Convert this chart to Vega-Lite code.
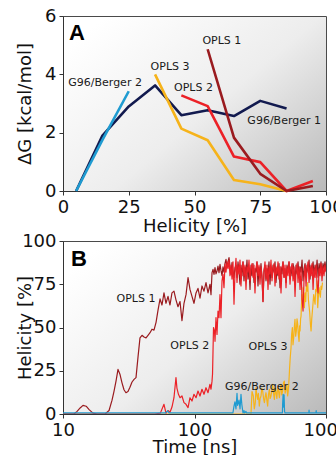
{
  "$schema": "https://vega.github.io/schema/vega-lite/v6.json",
  "padding": {"left": 15, "top": 6, "right": 0, "bottom": 0},
  "background": "white",
  "config": {
    "view": {
      "stroke": "#4a4a4a",
      "strokeWidth": 1,
      "fill": {"gradient": "linear", "x1": 0, "y1": 0.2, "x2": 1, "y2": 1,
        "stops": [{"offset": 0, "color": "#ffffff"}, {"offset": 0.5, "color": "#ededed"}, {"offset": 1, "color": "#b9b9b9"}]}
    },
    "font": "DejaVu Sans",
    "axis": {
      "grid": false, "labelFlush": false, "domainColor": "#333333", "tickColor": "#333333", "tickSize": 4,
      "labelFont": "DejaVu Sans", "labelFontSize": 18, "labelColor": "#111111",
      "titleFont": "DejaVu Sans", "titleFontSize": 18, "titleFontWeight": "normal", "titleColor": "#111111"
    },
    "axisX": {"labelPadding": 3},
    "axisY": {"labelPadding": 3}
  },
  "spacing": 50,
  "bounds": "flush",
  "datasets": {
    "dg": [
      {"s": "G96/Berger 1", "x": 5, "y": 0}, {"s": "G96/Berger 1", "x": 15, "y": 1.9}, {"s": "G96/Berger 1", "x": 25, "y": 2.9},
      {"s": "G96/Berger 1", "x": 35, "y": 3.62}, {"s": "G96/Berger 1", "x": 45, "y": 2.6}, {"s": "G96/Berger 1", "x": 55, "y": 2.77},
      {"s": "G96/Berger 1", "x": 65, "y": 2.57}, {"s": "G96/Berger 1", "x": 75, "y": 3.09}, {"s": "G96/Berger 1", "x": 85, "y": 2.83},
      {"s": "G96/Berger 2", "x": 5, "y": 0}, {"s": "G96/Berger 2", "x": 15, "y": 1.75}, {"s": "G96/Berger 2", "x": 25, "y": 3.42},
      {"s": "OPLS 3", "x": 35, "y": 4.0}, {"s": "OPLS 3", "x": 45, "y": 2.14}, {"s": "OPLS 3", "x": 55, "y": 1.74},
      {"s": "OPLS 3", "x": 65, "y": 0.38}, {"s": "OPLS 3", "x": 75, "y": 0.23}, {"s": "OPLS 3", "x": 85, "y": 0},
      {"s": "OPLS 2", "x": 45, "y": 3.28}, {"s": "OPLS 2", "x": 55, "y": 2.91}, {"s": "OPLS 2", "x": 65, "y": 1.18},
      {"s": "OPLS 2", "x": 75, "y": 0.99}, {"s": "OPLS 2", "x": 85, "y": 0}, {"s": "OPLS 2", "x": 95, "y": 0.34},
      {"s": "OPLS 1", "x": 55, "y": 4.86}, {"s": "OPLS 1", "x": 65, "y": 1.83}, {"s": "OPLS 1", "x": 75, "y": 0.59},
      {"s": "OPLS 1", "x": 85, "y": 0}, {"s": "OPLS 1", "x": 95, "y": 0.17}
    ],
    "labA": [
      {"label": "OPLS 1", "x": 60.4, "y": 5.14},
      {"label": "OPLS 3", "x": 40.7, "y": 4.26},
      {"label": "OPLS 2", "x": 49.6, "y": 3.52},
      {"label": "G96/Berger 2", "x": 16.0, "y": 3.69},
      {"label": "G96/Berger 1", "x": 84.1, "y": 2.4}
    ],
    "labB": [
      {"label": "OPLS 1", "t": 35.9, "h": 66.3},
      {"label": "OPLS 2", "t": 92.1, "h": 39.3},
      {"label": "OPLS 3", "t": 362, "h": 38.7},
      {"label": "G96/Berger 2", "t": 325, "h": 15.8}
    ],
    "hel": [
      {"s":"OPLS 3","t":10,"h":0},{"s":"OPLS 3","t":268.9,"h":0},{"s":"OPLS 3","t":273.7,"h":13},{"s":"OPLS 3","t":280,"h":10.4},{"s":"OPLS 3","t":285,"h":3},{"s":"OPLS 3","t":290,"h":6.6},{"s":"OPLS 3","t":293.5,"h":15.2},{"s":"OPLS 3","t":298,"h":11},{"s":"OPLS 3","t":302,"h":8.5},{"s":"OPLS 3","t":306,"h":12},{"s":"OPLS 3","t":311,"h":4.6},{"s":"OPLS 3","t":315.5,"h":9},{"s":"OPLS 3","t":320.4,"h":10.4},{"s":"OPLS 3","t":325,"h":15},{"s":"OPLS 3","t":330,"h":13.3},{"s":"OPLS 3","t":335,"h":9},{"s":"OPLS 3","t":340,"h":6.6},{"s":"OPLS 3","t":345,"h":10},{"s":"OPLS 3","t":349.7,"h":12.3},{"s":"OPLS 3","t":355,"h":8},{"s":"OPLS 3","t":360,"h":4.6},{"s":"OPLS 3","t":365,"h":11},{"s":"OPLS 3","t":371,"h":14.3},{"s":"OPLS 3","t":376,"h":9},{"s":"OPLS 3","t":381.7,"h":10.4},{"s":"OPLS 3","t":387,"h":13},{"s":"OPLS 3","t":393,"h":17.2},{"s":"OPLS 3","t":399,"h":12},{"s":"OPLS 3","t":405,"h":8.5},{"s":"OPLS 3","t":411,"h":15},{"s":"OPLS 3","t":416.7,"h":12.3},{"s":"OPLS 3","t":423,"h":9},{"s":"OPLS 3","t":429,"h":16.2},{"s":"OPLS 3","t":436,"h":13},{"s":"OPLS 3","t":442,"h":9.4},{"s":"OPLS 3","t":448,"h":14},{"s":"OPLS 3","t":454.8,"h":17.2},{"s":"OPLS 3","t":461,"h":11},{"s":"OPLS 3","t":468,"h":13.3},{"s":"OPLS 3","t":475,"h":18},{"s":"OPLS 3","t":482,"h":19},{"s":"OPLS 3","t":489,"h":12},{"s":"OPLS 3","t":496.5,"h":14.3},{"s":"OPLS 3","t":504,"h":17},{"s":"OPLS 3","t":511,"h":10.4},{"s":"OPLS 3","t":516,"h":13},{"s":"OPLS 3","t":520,"h":16},{"s":"OPLS 3","t":525,"h":22},{"s":"OPLS 3","t":529,"h":26.8},{"s":"OPLS 3","t":535,"h":33},{"s":"OPLS 3","t":542,"h":38.3},{"s":"OPLS 3","t":548,"h":46},{"s":"OPLS 3","t":555,"h":50},{"s":"OPLS 3","t":561,"h":40},{"s":"OPLS 3","t":568,"h":44},{"s":"OPLS 3","t":574,"h":50},{"s":"OPLS 3","t":581,"h":54.7},{"s":"OPLS 3","t":588,"h":45},{"s":"OPLS 3","t":595,"h":48},{"s":"OPLS 3","t":602,"h":55},{"s":"OPLS 3","t":609,"h":52},{"s":"OPLS 3","t":616,"h":46},{"s":"OPLS 3","t":624,"h":42},{"s":"OPLS 3","t":630,"h":51},{"s":"OPLS 3","t":635,"h":48},{"s":"OPLS 3","t":641,"h":55},{"s":"OPLS 3","t":646,"h":56.6},{"s":"OPLS 3","t":651,"h":63},{"s":"OPLS 3","t":657,"h":69},{"s":"OPLS 3","t":663,"h":65},{"s":"OPLS 3","t":669,"h":73},{"s":"OPLS 3","t":677,"h":68},{"s":"OPLS 3","t":685,"h":61.5},{"s":"OPLS 3","t":693,"h":70},{"s":"OPLS 3","t":701,"h":65},{"s":"OPLS 3","t":709,"h":74},{"s":"OPLS 3","t":718,"h":71},{"s":"OPLS 3","t":726,"h":76},{"s":"OPLS 3","t":735,"h":66},{"s":"OPLS 3","t":744,"h":62},{"s":"OPLS 3","t":752,"h":58.6},{"s":"OPLS 3","t":761,"h":52},{"s":"OPLS 3","t":770,"h":48},{"s":"OPLS 3","t":779,"h":55},{"s":"OPLS 3","t":788,"h":59.5},{"s":"OPLS 3","t":797,"h":64},{"s":"OPLS 3","t":806,"h":69},{"s":"OPLS 3","t":816,"h":66},{"s":"OPLS 3","t":826,"h":63.5},{"s":"OPLS 3","t":835,"h":72},{"s":"OPLS 3","t":845,"h":71},{"s":"OPLS 3","t":855,"h":77},{"s":"OPLS 3","t":865,"h":61.5},{"s":"OPLS 3","t":875,"h":68},{"s":"OPLS 3","t":886,"h":73},{"s":"OPLS 3","t":896,"h":70},{"s":"OPLS 3","t":906,"h":67.5},{"s":"OPLS 3","t":917,"h":74},{"s":"OPLS 3","t":928,"h":72},{"s":"OPLS 3","t":940,"h":76},

      {"s":"OPLS 1","t":10,"h":0},{"s":"OPLS 1","t":12.1,"h":0},{"s":"OPLS 1","t":12.8,"h":1.5},{"s":"OPLS 1","t":13.5,"h":3.5},{"s":"OPLS 1","t":14.2,"h":5},{"s":"OPLS 1","t":15,"h":4.5},{"s":"OPLS 1","t":15.8,"h":2.5},{"s":"OPLS 1","t":16.9,"h":0.5},{"s":"OPLS 1","t":18.1,"h":0},{"s":"OPLS 1","t":20.9,"h":0},{"s":"OPLS 1","t":22.4,"h":2},{"s":"OPLS 1","t":23.6,"h":8},{"s":"OPLS 1","t":24.4,"h":13},{"s":"OPLS 1","t":25.3,"h":19},{"s":"OPLS 1","t":26.2,"h":25.8},{"s":"OPLS 1","t":27.1,"h":23},{"s":"OPLS 1","t":28.1,"h":18},{"s":"OPLS 1","t":29.1,"h":14},{"s":"OPLS 1","t":30.1,"h":12.3},{"s":"OPLS 1","t":31.2,"h":13},{"s":"OPLS 1","t":32.3,"h":15.5},{"s":"OPLS 1","t":33.5,"h":18.5},{"s":"OPLS 1","t":34.7,"h":20},{"s":"OPLS 1","t":35.9,"h":21},{"s":"OPLS 1","t":37.2,"h":33},{"s":"OPLS 1","t":38.5,"h":44},{"s":"OPLS 1","t":39.9,"h":45.5},{"s":"OPLS 1","t":41.3,"h":44.5},{"s":"OPLS 1","t":42.8,"h":44},{"s":"OPLS 1","t":44.3,"h":45.5},{"s":"OPLS 1","t":45.9,"h":47},{"s":"OPLS 1","t":47.5,"h":49},{"s":"OPLS 1","t":49.2,"h":48.5},{"s":"OPLS 1","t":51,"h":53},{"s":"OPLS 1","t":52.8,"h":60},{"s":"OPLS 1","t":54.7,"h":66.5},{"s":"OPLS 1","t":56.6,"h":63},{"s":"OPLS 1","t":58.6,"h":70},{"s":"OPLS 1","t":60.7,"h":64},{"s":"OPLS 1","t":62.9,"h":68},{"s":"OPLS 1","t":65.1,"h":63},{"s":"OPLS 1","t":67.4,"h":70},{"s":"OPLS 1","t":69.8,"h":71},{"s":"OPLS 1","t":72.3,"h":66},{"s":"OPLS 1","t":74.9,"h":62},{"s":"OPLS 1","t":77.6,"h":65},{"s":"OPLS 1","t":80.3,"h":54},{"s":"OPLS 1","t":83.2,"h":64},{"s":"OPLS 1","t":86.2,"h":69},{"s":"OPLS 1","t":89.3,"h":78.8},{"s":"OPLS 1","t":92.4,"h":72},{"s":"OPLS 1","t":95.7,"h":68},{"s":"OPLS 1","t":99.1,"h":64},{"s":"OPLS 1","t":102.7,"h":70},{"s":"OPLS 1","t":106.3,"h":72.6},{"s":"OPLS 1","t":110.1,"h":67},{"s":"OPLS 1","t":114,"h":74},{"s":"OPLS 1","t":118.1,"h":71},{"s":"OPLS 1","t":122.3,"h":76},{"s":"OPLS 1","t":126.7,"h":70},{"s":"OPLS 1","t":131.2,"h":75},{"s":"OPLS 1","t":133.5,"h":69},{"s":"OPLS 1","t":135.9,"h":81.7},{"s":"OPLS 1","t":138.3,"h":83.6},{"s":"OPLS 1","t":140.7,"h":80.7},{"s":"OPLS 1","t":143.2,"h":84.6},{"s":"OPLS 1","t":145.7,"h":81},{"s":"OPLS 1","t":148.3,"h":82.6},{"s":"OPLS 1","t":150.9,"h":85.5},{"s":"OPLS 1","t":153.6,"h":81.7},{"s":"OPLS 1","t":156.3,"h":86.5},{"s":"OPLS 1","t":159,"h":83},{"s":"OPLS 1","t":161.9,"h":80},{"s":"OPLS 1","t":164.7,"h":85},{"s":"OPLS 1","t":167.6,"h":82},{"s":"OPLS 1","t":170.6,"h":87},{"s":"OPLS 1","t":173.6,"h":89.4},{"s":"OPLS 1","t":176.7,"h":84.6},{"s":"OPLS 1","t":179.8,"h":88},{"s":"OPLS 1","t":183,"h":90.4},{"s":"OPLS 1","t":186.2,"h":85.5},{"s":"OPLS 1","t":189.5,"h":80.7},{"s":"OPLS 1","t":192.8,"h":87.5},{"s":"OPLS 1","t":196.2,"h":82.6},{"s":"OPLS 1","t":199.7,"h":78.8},{"s":"OPLS 1","t":203.2,"h":84.6},{"s":"OPLS 1","t":206.8,"h":86},{"s":"OPLS 1","t":210.5,"h":79},{"s":"OPLS 1","t":214.2,"h":88},{"s":"OPLS 1","t":218,"h":82},{"s":"OPLS 1","t":221.8,"h":75},{"s":"OPLS 1","t":225.7,"h":86},{"s":"OPLS 1","t":229.7,"h":80},{"s":"OPLS 1","t":233.8,"h":88},{"s":"OPLS 1","t":237.9,"h":77},{"s":"OPLS 1","t":242.1,"h":85},{"s":"OPLS 1","t":246.4,"h":81},{"s":"OPLS 1","t":250.7,"h":89},{"s":"OPLS 1","t":255.2,"h":78},{"s":"OPLS 1","t":259.7,"h":84},{"s":"OPLS 1","t":264.3,"h":72},{"s":"OPLS 1","t":268.9,"h":86},{"s":"OPLS 1","t":273.7,"h":80},{"s":"OPLS 1","t":278.5,"h":87},{"s":"OPLS 1","t":283.4,"h":76},{"s":"OPLS 1","t":288.4,"h":84},{"s":"OPLS 1","t":293.5,"h":82},{"s":"OPLS 1","t":298.7,"h":88},{"s":"OPLS 1","t":304,"h":74},{"s":"OPLS 1","t":309.4,"h":85},{"s":"OPLS 1","t":314.8,"h":80},{"s":"OPLS 1","t":320.4,"h":87},{"s":"OPLS 1","t":326.1,"h":78},{"s":"OPLS 1","t":331.8,"h":65},{"s":"OPLS 1","t":337.7,"h":83},{"s":"OPLS 1","t":343.6,"h":86},{"s":"OPLS 1","t":349.7,"h":77},{"s":"OPLS 1","t":355.9,"h":84},{"s":"OPLS 1","t":362.2,"h":81},{"s":"OPLS 1","t":368.6,"h":88},{"s":"OPLS 1","t":375.1,"h":75},{"s":"OPLS 1","t":381.7,"h":85},{"s":"OPLS 1","t":388.5,"h":79},{"s":"OPLS 1","t":395.4,"h":86},{"s":"OPLS 1","t":402.4,"h":82},{"s":"OPLS 1","t":409.5,"h":88},{"s":"OPLS 1","t":416.7,"h":76},{"s":"OPLS 1","t":424.1,"h":84},{"s":"OPLS 1","t":431.5,"h":80},{"s":"OPLS 1","t":439.2,"h":87},{"s":"OPLS 1","t":446.9,"h":73},{"s":"OPLS 1","t":454.8,"h":85},{"s":"OPLS 1","t":462.9,"h":81},{"s":"OPLS 1","t":471,"h":88},{"s":"OPLS 1","t":479.4,"h":79},{"s":"OPLS 1","t":487.9,"h":84},{"s":"OPLS 1","t":496.5,"h":76},{"s":"OPLS 1","t":505.3,"h":86},{"s":"OPLS 1","t":514.2,"h":82},{"s":"OPLS 1","t":523.3,"h":88},{"s":"OPLS 1","t":532.6,"h":78},{"s":"OPLS 1","t":542,"h":85},{"s":"OPLS 1","t":551.6,"h":80},{"s":"OPLS 1","t":561.4,"h":87},{"s":"OPLS 1","t":571.3,"h":83},{"s":"OPLS 1","t":581.4,"h":77},{"s":"OPLS 1","t":591.7,"h":86},{"s":"OPLS 1","t":602.2,"h":81},{"s":"OPLS 1","t":612.8,"h":88},{"s":"OPLS 1","t":623.7,"h":79},{"s":"OPLS 1","t":634.7,"h":85},{"s":"OPLS 1","t":645.9,"h":82},{"s":"OPLS 1","t":657.4,"h":89},{"s":"OPLS 1","t":669,"h":77},{"s":"OPLS 1","t":680.9,"h":84},{"s":"OPLS 1","t":692.9,"h":87},{"s":"OPLS 1","t":705.2,"h":80},{"s":"OPLS 1","t":717.7,"h":86},{"s":"OPLS 1","t":730.4,"h":82},{"s":"OPLS 1","t":743.3,"h":89},{"s":"OPLS 1","t":756.4,"h":78},{"s":"OPLS 1","t":769.8,"h":86},{"s":"OPLS 1","t":783.4,"h":83},{"s":"OPLS 1","t":797.3,"h":88},{"s":"OPLS 1","t":811.4,"h":80},{"s":"OPLS 1","t":825.7,"h":86},{"s":"OPLS 1","t":840.5,"h":82},{"s":"OPLS 1","t":855.4,"h":89},{"s":"OPLS 1","t":870.5,"h":79},{"s":"OPLS 1","t":885.9,"h":87},{"s":"OPLS 1","t":901.6,"h":83},{"s":"OPLS 1","t":916.2,"h":88},{"s":"OPLS 1","t":932.4,"h":81},{"s":"OPLS 1","t":949,"h":87},{"s":"OPLS 1","t":965.6,"h":84},{"s":"OPLS 1","t":982.6,"h":88},{"s":"OPLS 1","t":1000,"h":83},

      {"s":"OPLS 2","t":10,"h":0},{"s":"OPLS 2","t":50,"h":0},{"s":"OPLS 2","t":55,"h":0.5},{"s":"OPLS 2","t":58.6,"h":5.6},{"s":"OPLS 2","t":60.7,"h":0.5},{"s":"OPLS 2","t":62.9,"h":2},{"s":"OPLS 2","t":65.1,"h":1},{"s":"OPLS 2","t":67.4,"h":4},{"s":"OPLS 2","t":69.8,"h":9.4},{"s":"OPLS 2","t":72.3,"h":21},{"s":"OPLS 2","t":73.5,"h":15},{"s":"OPLS 2","t":75.5,"h":11.4},{"s":"OPLS 2","t":77.6,"h":9.4},{"s":"OPLS 2","t":80.3,"h":10.4},{"s":"OPLS 2","t":83.2,"h":6.6},{"s":"OPLS 2","t":86.2,"h":5.6},{"s":"OPLS 2","t":89.3,"h":3.7},{"s":"OPLS 2","t":92.4,"h":9.4},{"s":"OPLS 2","t":95.7,"h":7.5},{"s":"OPLS 2","t":99.1,"h":11.4},{"s":"OPLS 2","t":102.7,"h":9.4},{"s":"OPLS 2","t":106.3,"h":13.3},{"s":"OPLS 2","t":110.1,"h":10.4},{"s":"OPLS 2","t":114,"h":14.3},{"s":"OPLS 2","t":118.1,"h":11.4},{"s":"OPLS 2","t":122.3,"h":15.2},{"s":"OPLS 2","t":126.7,"h":12.3},{"s":"OPLS 2","t":131.2,"h":17.2},{"s":"OPLS 2","t":133.5,"h":14.3},{"s":"OPLS 2","t":135.9,"h":19},{"s":"OPLS 2","t":137.1,"h":23},{"s":"OPLS 2","t":138.3,"h":36.4},{"s":"OPLS 2","t":139.5,"h":50},{"s":"OPLS 2","t":141.9,"h":48},{"s":"OPLS 2","t":143.2,"h":42},{"s":"OPLS 2","t":145.7,"h":55.7},{"s":"OPLS 2","t":148.3,"h":46},{"s":"OPLS 2","t":150.9,"h":59.5},{"s":"OPLS 2","t":153.6,"h":55.7},{"s":"OPLS 2","t":156.3,"h":69},{"s":"OPLS 2","t":159,"h":55.7},{"s":"OPLS 2","t":161.9,"h":77},{"s":"OPLS 2","t":164.7,"h":80.7},{"s":"OPLS 2","t":167.6,"h":73},{"s":"OPLS 2","t":170.6,"h":86.5},{"s":"OPLS 2","t":173.6,"h":82},{"s":"OPLS 2","t":176.7,"h":88},{"s":"OPLS 2","t":179.8,"h":84},{"s":"OPLS 2","t":183,"h":89},{"s":"OPLS 2","t":186.2,"h":80},{"s":"OPLS 2","t":189.5,"h":86},{"s":"OPLS 2","t":192.8,"h":78},{"s":"OPLS 2","t":196.2,"h":88},{"s":"OPLS 2","t":199.7,"h":63.5},{"s":"OPLS 2","t":203.2,"h":82},{"s":"OPLS 2","t":206.8,"h":90},{"s":"OPLS 2","t":210.5,"h":76},{"s":"OPLS 2","t":214.2,"h":86},{"s":"OPLS 2","t":218,"h":81},{"s":"OPLS 2","t":221.8,"h":89},{"s":"OPLS 2","t":225.7,"h":74},{"s":"OPLS 2","t":229.7,"h":84},{"s":"OPLS 2","t":233.8,"h":88},{"s":"OPLS 2","t":237.9,"h":80},{"s":"OPLS 2","t":242.1,"h":86},{"s":"OPLS 2","t":246.4,"h":72},{"s":"OPLS 2","t":250.7,"h":85},{"s":"OPLS 2","t":255.2,"h":82},{"s":"OPLS 2","t":259.7,"h":89},{"s":"OPLS 2","t":264.3,"h":77},{"s":"OPLS 2","t":268.9,"h":84},{"s":"OPLS 2","t":273.7,"h":87},{"s":"OPLS 2","t":278.5,"h":79},{"s":"OPLS 2","t":283.4,"h":86},{"s":"OPLS 2","t":288.4,"h":70},{"s":"OPLS 2","t":293.5,"h":84},{"s":"OPLS 2","t":298.7,"h":88},{"s":"OPLS 2","t":304,"h":80},{"s":"OPLS 2","t":309.4,"h":86},{"s":"OPLS 2","t":314.8,"h":75},{"s":"OPLS 2","t":320.4,"h":85},{"s":"OPLS 2","t":326.1,"h":80},{"s":"OPLS 2","t":331.8,"h":65},{"s":"OPLS 2","t":337.7,"h":82},{"s":"OPLS 2","t":343.6,"h":88},{"s":"OPLS 2","t":349.7,"h":78},{"s":"OPLS 2","t":355.9,"h":86},{"s":"OPLS 2","t":362.2,"h":72},{"s":"OPLS 2","t":368.6,"h":85},{"s":"OPLS 2","t":375.1,"h":81},{"s":"OPLS 2","t":381.7,"h":89},{"s":"OPLS 2","t":388.5,"h":77},{"s":"OPLS 2","t":395.4,"h":84},{"s":"OPLS 2","t":402.4,"h":87},{"s":"OPLS 2","t":409.5,"h":74},{"s":"OPLS 2","t":416.7,"h":85},{"s":"OPLS 2","t":424.1,"h":81},{"s":"OPLS 2","t":431.5,"h":88},{"s":"OPLS 2","t":439.2,"h":78},{"s":"OPLS 2","t":446.9,"h":85},{"s":"OPLS 2","t":454.8,"h":70},{"s":"OPLS 2","t":462.9,"h":84},{"s":"OPLS 2","t":471,"h":88},{"s":"OPLS 2","t":479.4,"h":79},{"s":"OPLS 2","t":487.9,"h":86},{"s":"OPLS 2","t":496.5,"h":73},{"s":"OPLS 2","t":505.3,"h":85},{"s":"OPLS 2","t":514.2,"h":80},{"s":"OPLS 2","t":523.3,"h":88},{"s":"OPLS 2","t":532.6,"h":75},{"s":"OPLS 2","t":542,"h":84},{"s":"OPLS 2","t":551.6,"h":87},{"s":"OPLS 2","t":561.4,"h":77},{"s":"OPLS 2","t":571.3,"h":85},{"s":"OPLS 2","t":581.4,"h":68},{"s":"OPLS 2","t":591.7,"h":83},{"s":"OPLS 2","t":602.2,"h":87},{"s":"OPLS 2","t":612.8,"h":76},{"s":"OPLS 2","t":623.7,"h":85},{"s":"OPLS 2","t":634.7,"h":72},{"s":"OPLS 2","t":645.9,"h":84},{"s":"OPLS 2","t":657.4,"h":66},{"s":"OPLS 2","t":669,"h":59.5},{"s":"OPLS 2","t":680.9,"h":78},{"s":"OPLS 2","t":692.9,"h":86},{"s":"OPLS 2","t":705.2,"h":74},{"s":"OPLS 2","t":717.7,"h":84},{"s":"OPLS 2","t":730.4,"h":88},{"s":"OPLS 2","t":743.3,"h":76},{"s":"OPLS 2","t":756.4,"h":85},{"s":"OPLS 2","t":769.8,"h":80},{"s":"OPLS 2","t":783.4,"h":87},{"s":"OPLS 2","t":797.3,"h":72},{"s":"OPLS 2","t":811.4,"h":84},{"s":"OPLS 2","t":825.7,"h":79},{"s":"OPLS 2","t":840.5,"h":86},{"s":"OPLS 2","t":855.4,"h":75},{"s":"OPLS 2","t":870.5,"h":70},{"s":"OPLS 2","t":885.9,"h":84},{"s":"OPLS 2","t":901.6,"h":80},{"s":"OPLS 2","t":916.2,"h":87},{"s":"OPLS 2","t":932.4,"h":77},{"s":"OPLS 2","t":949,"h":85},{"s":"OPLS 2","t":965.6,"h":80},{"s":"OPLS 2","t":982.6,"h":86},{"s":"OPLS 2","t":1000,"h":82},

      {"s":"G96/Berger 2","t":10,"h":0.6},{"s":"G96/Berger 2","t":60,"h":0.6},{"s":"G96/Berger 2","t":62.5,"h":1.8},{"s":"G96/Berger 2","t":64,"h":0.6},{"s":"G96/Berger 2","t":196,"h":0.6},{"s":"G96/Berger 2","t":199.7,"h":4.6},{"s":"G96/Berger 2","t":203,"h":7},{"s":"G96/Berger 2","t":206.8,"h":3},{"s":"G96/Berger 2","t":210.5,"h":12},{"s":"G96/Berger 2","t":213,"h":5},{"s":"G96/Berger 2","t":218,"h":8},{"s":"G96/Berger 2","t":222,"h":3},{"s":"G96/Berger 2","t":225.7,"h":11.4},{"s":"G96/Berger 2","t":229,"h":5.6},{"s":"G96/Berger 2","t":233.8,"h":0.6},{"s":"G96/Berger 2","t":238,"h":2},{"s":"G96/Berger 2","t":240,"h":0.6},{"s":"G96/Berger 2","t":246.4,"h":1.5},{"s":"G96/Berger 2","t":248,"h":0.6},{"s":"G96/Berger 2","t":466,"h":0.6},{"s":"G96/Berger 2","t":468,"h":5.6},{"s":"G96/Berger 2","t":472,"h":11.4},{"s":"G96/Berger 2","t":476,"h":4},{"s":"G96/Berger 2","t":480,"h":11},{"s":"G96/Berger 2","t":484,"h":1.5},{"s":"G96/Berger 2","t":488,"h":0.6},{"s":"G96/Berger 2","t":740,"h":0.6},{"s":"G96/Berger 2","t":743.3,"h":2.2},{"s":"G96/Berger 2","t":747,"h":0.6},{"s":"G96/Berger 2","t":838,"h":0.6},{"s":"G96/Berger 2","t":842,"h":2},{"s":"G96/Berger 2","t":846,"h":0.6},{"s":"G96/Berger 2","t":1000,"h":0.6}
    ]
  },
  "vconcat": [
    {
      "width": 263,
      "height": 175,
      "layer": [
        {
          "data": {"name": "dg"},
          "mark": {"type": "line", "strokeWidth": 2.6, "strokeJoin": "round"},
          "encoding": {
            "x": {"field": "x", "type": "quantitative", "scale": {"domain": [0, 100], "nice": false},
              "axis": {"values": [0, 25, 50, 75, 100], "title": "Helicity [%]", "titleY": 26}},
            "y": {"field": "y", "type": "quantitative", "scale": {"domain": [0, 6], "nice": false},
              "axis": {"values": [0, 2, 4, 6], "title": "ΔG [kcal/mol]", "titleX": -29}},
            "color": {"field": "s", "type": "nominal", "legend": null,
              "scale": {"domain": ["G96/Berger 1", "G96/Berger 2", "OPLS 3", "OPLS 2", "OPLS 1"],
                "range": ["#121a4f", "#1f9bd1", "#f6b31a", "#ec2127", "#9a1b1f"]}}
          }
        },
        {
          "data": {"name": "labA"},
          "mark": {"type": "text", "font": "DejaVu Sans", "fontSize": 11, "color": "#1a1a1a", "baseline": "middle"},
          "encoding": {
            "x": {"field": "x", "type": "quantitative"},
            "y": {"field": "y", "type": "quantitative"},
            "text": {"field": "label"}
          }
        },
        {
          "data": {"values": [{"panel": "A"}]},
          "mark": {"type": "text", "font": "Liberation Sans", "fontWeight": "bold", "fontSize": 22, "align": "left", "baseline": "alphabetic", "color": "#000000"},
          "encoding": {
            "x": {"datum": 2.3, "type": "quantitative"},
            "y": {"datum": 5.17, "type": "quantitative"},
            "text": {"field": "panel"}
          }
        }
      ]
    },
    {
      "width": 263,
      "height": 173,
      "layer": [
        {
          "data": {"name": "hel"},
          "mark": {"type": "line", "strokeWidth": 1.2, "strokeJoin": "round", "clip": true},
          "encoding": {
            "x": {"field": "t", "type": "quantitative", "scale": {"type": "log", "domain": [10, 1000], "nice": false},
              "axis": {"values": [10, 100, 1000], "format": "d", "title": "Time [ns]", "titleY": 24}},
            "y": {"field": "h", "type": "quantitative", "scale": {"domain": [0, 100], "nice": false},
              "axis": {"values": [0, 25, 50, 75, 100], "title": "Helicity [%]", "titleX": -29}},
            "color": {"field": "s", "type": "nominal", "legend": null,
              "scale": {"domain": ["OPLS 3", "OPLS 1", "OPLS 2", "G96/Berger 2"],
                "range": ["#f7b51c", "#e0362d", "#f4282c", "#1ca3da"]}}
          }
        },
        {
          "data": {"name": "labB"},
          "mark": {"type": "text", "font": "DejaVu Sans", "fontSize": 11, "color": "#1a1a1a", "baseline": "middle"},
          "encoding": {
            "x": {"field": "t", "type": "quantitative"},
            "y": {"field": "h", "type": "quantitative"},
            "text": {"field": "label"}
          }
        },
        {
          "data": {"values": [{"panel": "B"}]},
          "mark": {"type": "text", "font": "Liberation Sans", "fontWeight": "bold", "fontSize": 22, "align": "left", "baseline": "alphabetic", "color": "#000000"},
          "encoding": {
            "x": {"datum": 11.5, "type": "quantitative"},
            "y": {"datum": 85.5, "type": "quantitative"},
            "text": {"field": "panel"}
          }
        }
      ]
    }
  ]
}
